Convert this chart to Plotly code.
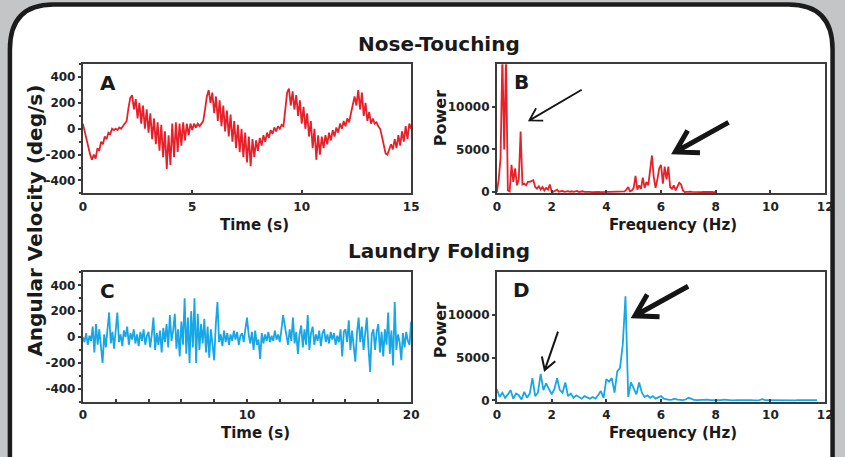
import numpy as np
import plotly.graph_objects as go

# ---------------- data ----------------
A_dt = 1.0 / 12.0  # s between samples
A_vel = [40,-20,-90,-150,-200,-240,-200,-230,-150,-170,-100,-120,-60,-80,-30,-40,0,-10,0,-10,
         10,0,20,40,60,160,240,260,150,230,80,200,40,180,0,150,-30,120,-80,80,
         -120,50,-170,30,-220,-20,-310,-50,-280,40,-220,50,-180,40,-130,50,-90,40,-50,40,
         -10,40,10,40,20,40,60,150,250,300,200,280,120,250,60,220,20,180,-20,140,
         -60,110,-100,60,-150,30,-180,0,-220,-30,-260,-60,-290,-80,-220,-90,-170,-70,-130,-50,
         -100,-30,-70,-10,-40,10,-20,20,0,30,20,150,280,310,180,290,150,260,100,220,
         40,170,0,120,-60,60,-150,0,-240,-50,-200,-60,-150,-50,-120,-30,-90,-10,-60,10,
         -30,40,0,60,20,80,50,120,180,250,180,300,150,280,100,200,60,130,40,80,
         40,50,20,0,-60,-140,-190,-200,-150,-120,-160,-80,-150,-50,-130,-20,-100,20,-80,40,
         0]

B_df = 1.0 / 15.0  # Hz between spectral bins
B_pow = [0,1500,4000,16000,5000,16000,200,100,3200,1200,
         2800,800,1500,7100,900,1000,800,1200,1200,1300,
         1400,600,400,700,300,600,200,500,300,900,
         100,50,150,300,50,80,150,30,100,120,
         40,100,30,60,150,20,50,100,30,60,
         20,40,10,30,20,10,30,10,20,10,
         10,20,10,30,20,10,40,20,60,50,
         100,300,600,100,200,500,1900,300,800,400,
         1700,500,1200,800,2500,4300,1800,500,1500,2800,
         3200,1000,3000,1500,3000,600,400,800,200,600,
         1100,900,200,0,40,20,60,30,10,50,
         20,30,10,40,20,10,30,10,20,10,
         0]

C_dt = 0.1  # s between samples
C_vel = [0,-40,30,-60,10,-30,80,-120,100,-60,
         60,-100,-200,20,-80,60,190,-50,40,-90,
         60,190,-40,20,-70,50,0,80,-60,30,
         -20,60,-50,20,-70,40,-30,60,-60,10,
         40,-80,20,150,-100,30,-60,50,-120,70,
         -40,100,-80,170,-30,50,180,-90,60,-150,
         120,-60,300,-130,150,-200,200,-80,300,-200,
         180,-100,100,-50,140,-120,80,-160,60,-60,
         -180,100,270,-40,20,-70,50,-40,30,-60,
         20,-30,50,-20,40,-60,10,30,-40,60,
         150,20,-50,40,-100,50,-60,-20,-170,30,
         -50,20,-30,40,-40,10,-30,50,-20,20,
         -40,60,170,90,20,-60,60,-30,150,-50,
         40,-130,20,90,-80,60,-60,170,-100,30,
         80,-60,20,-30,50,-70,30,60,-40,20,
         -50,40,-20,30,-60,10,-40,60,-150,40,
         60,-40,130,-100,50,-60,-190,30,150,-40,
         80,-100,60,150,-80,-270,20,60,-100,40,
         100,-120,40,-150,60,-60,190,-130,50,-220,
         270,-100,20,-40,-180,30,-80,40,-30,-60,
         120]

D_df = 0.1  # Hz between spectral bins
D_pow = [1300,400,900,300,700,1200,200,800,600,100,
         1000,300,800,2600,500,900,3100,1200,2000,1400,
         700,1300,2600,1200,900,2100,500,800,300,600,
         400,200,500,300,200,400,200,600,1100,300,
         2500,2200,2600,900,3400,3800,6500,12200,400,2100,
         1300,700,2100,900,400,600,300,500,200,400,
         500,200,100,50,100,200,100,50,30,100,
         300,200,50,30,60,20,40,80,30,20,
         50,20,30,80,20,40,10,60,30,20,
         40,20,50,30,10,40,30,150,20,30,
         20,40,10,30,20,50,10,30,20,10,
         30,20,10,40,20,30,10,20]

vel_ticks = [-400, -200, 0, 200, 400]
vel_labels = ["-400", "-200", "0", "200", "400"]
A_time_ticks = [0, 5, 10, 15]
C_time_ticks = [0, 10, 20]
freq_ticks = [0, 2, 4, 6, 8, 10, 12]
pow_ticks = [0, 5000, 10000]
pow_labels = ["0", "5000", "10000"]

RED = "#e8202a"
BLUE = "#17a6e6"
W, H = 845, 457
FONT = "DejaVu Sans"

def px(x):
    return x / W

def py(y):
    return 1 - y / H

A_t = np.arange(len(A_vel)) * A_dt
B_f = np.arange(len(B_pow)) * B_df
C_t = np.arange(len(C_vel)) * C_dt
D_f = np.arange(len(D_pow)) * D_df

fig = go.Figure()
fig.add_trace(go.Scatter(x=A_t, y=A_vel, mode="lines", line=dict(color=RED, width=1.8), xaxis="x", yaxis="y"))
fig.add_trace(go.Scatter(x=B_f, y=B_pow, mode="lines", line=dict(color=RED, width=1.8), xaxis="x2", yaxis="y2"))
fig.add_trace(go.Scatter(x=C_t, y=C_vel, mode="lines", line=dict(color=BLUE, width=1.8), xaxis="x3", yaxis="y3"))
fig.add_trace(go.Scatter(x=D_f, y=D_pow, mode="lines", line=dict(color=BLUE, width=1.8), xaxis="x4", yaxis="y4"))

tickfont = dict(family=FONT, size=12, color="#222222", weight="bold")
frame = dict(showline=True, linecolor="#3c3c3c", linewidth=2, mirror=True,
             showgrid=False, zeroline=False, tickfont=tickfont, tickcolor="#3c3c3c")

def xax(dom, rng, ticks):
    return dict(domain=dom, range=rng, tickvals=ticks, ticktext=[str(t) for t in ticks],
                ticks="inside", ticklen=3, tickwidth=1.5, ticklabelstandoff=1, **frame)

def yax(dom, rng, ticks, labels, anchor, minor=None):
    d = dict(domain=dom, range=rng, tickvals=ticks, ticktext=labels, ticks="outside", ticklen=3,
             tickwidth=1.5, anchor=anchor, **frame)
    if minor:
        d["minor"] = dict(dtick=minor, ticks="outside", ticklen=2, tickcolor="#3c3c3c")
    return d

xl = [px(80), px(413)]
xr = [px(500), px(833)]
yt = [py(196), py(65)]
yb = [py(407), py(276)]

fig.update_layout(
    width=W, height=H, autosize=False,
    margin=dict(l=0, r=0, t=0, b=0),
    paper_bgcolor="#c4c5c7", plot_bgcolor="white",
    showlegend=False,
    xaxis=dict(anchor="y", **xax(xl, [0, 15], A_time_ticks)),
    yaxis=yax(yt, [-500, 500], vel_ticks, vel_labels, "x", minor=100),
    xaxis2=dict(anchor="y2", **xax(xr, [0, 12], freq_ticks)),
    yaxis2=yax(yt, [-150, 15000], pow_ticks, pow_labels, "x2"),
    xaxis3=dict(anchor="y3", minor=dict(dtick=2, ticks="inside", ticklen=3, tickcolor="#3c3c3c"),
                **xax(xl, [0, 20], C_time_ticks)),
    yaxis3=yax(yb, [-500, 500], vel_ticks, vel_labels, "x3", minor=100),
    xaxis4=dict(anchor="y4", **xax(xr, [0, 12], freq_ticks)),
    yaxis4=yax(yb, [-150, 15000], pow_ticks, pow_labels, "x4"),
)

# white rounded panel on grey background
panel = (f"M {px(6)},{py(480)} L {px(6)},{py(50)} Q {px(6)},{py(4.5)} {px(50)},{py(4.5)} "
         f"L {px(796)},{py(4.5)} Q {px(840.5)},{py(4.5)} {px(840.5)},{py(50)} L {px(840.5)},{py(480)} Z")
shapes = [dict(type="path", path=panel, xref="paper", yref="paper", layer="below",
               fillcolor="white", line=dict(color="#1c1c1c", width=4.5))]

def arrow(tail, head, wing, width, ang=31):
    t = np.array(tail, float); h = np.array(head, float)
    d = (t - h) / np.linalg.norm(t - h)
    pts = []
    for s in (1, -1):
        a = np.radians(s * ang)
        r = np.array([d[0] * np.cos(a) - d[1] * np.sin(a), d[0] * np.sin(a) + d[1] * np.cos(a)])
        pts.append(h + wing * r)
    p = (f"M {px(t[0])},{py(t[1])} L {px(h[0])},{py(h[1])} "
         f"M {px(pts[0][0])},{py(pts[0][1])} L {px(h[0])},{py(h[1])} L {px(pts[1][0])},{py(pts[1][1])}")
    return dict(type="path", path=p, xref="paper", yref="paper", line=dict(color="#151515", width=width))

shapes += [
    arrow((586, 91), (533, 122), 14, 1.8),
    arrow((735, 124), (681, 154), 25, 5),
    arrow((562, 336), (548.5, 375), 14, 2),
    arrow((694, 290), (640, 320), 25, 5),
]
fig.update_layout(shapes=shapes)

def txt(s, x, y, size, angle=0):
    return dict(text=s, x=px(x), y=py(y), xref="paper", yref="paper", showarrow=False,
                xanchor="center", yanchor="middle", textangle=angle,
                font=dict(family=FONT, size=size, color="#1a1a1a", weight="bold"))

fig.update_layout(annotations=[
    txt("Nose-Touching", 441, 45, 20),
    txt("Laundry Folding", 441, 254, 20),
    txt("Angular Velocity (deg/s)", 31, 224, 20, -90),
    txt("Power", 443, 120, 16, -90),
    txt("Power", 443, 335, 16, -90),
    txt("Time (s)", 254, 228, 15),
    txt("Frequency (Hz)", 679, 228, 15),
    txt("Time (s)", 255, 439, 15),
    txt("Frequency (Hz)", 679, 439, 15),
    txt("A", 105, 84, 20),
    txt("B", 525, 83, 20),
    txt("C", 105, 295, 20),
    txt("D", 525, 294, 20),
])

css_fix = ("document.documentElement.style.margin='0';document.documentElement.style.padding='0';"
           "document.documentElement.style.overflow='hidden';"
           "document.body.style.margin='0';document.body.style.padding='0';"
           "document.body.style.overflow='hidden';")
fig.write_html("out.html", config={"displayModeBar": False}, post_script=css_fix)
